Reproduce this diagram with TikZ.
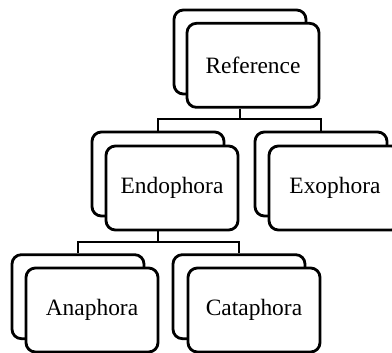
\documentclass[tikz,border=0pt]{standalone}
\usepackage{fontspec}
\setmainfont{Liberation Serif}
\begin{document}
\begin{tikzpicture}[every node/.style={font=\fontsize{20}{24}\selectfont},
  card/.style={draw,fill=white,line width=2.4pt,rounded corners=8pt,minimum width=3.96cm,minimum height=2.52cm},
  link/.style={line width=2.4pt}]
\useasboundingbox (0,0) rectangle (11.76,10.56);
\clip (0,0) rectangle (11.76,10.56);
% back cards
\node[card] (refback) at (7.20,9.00) {};
\node[card] (endoback) at (4.74,5.34) {};
\node[card] (exoback) at (9.63,5.34) {};
\node[card] (anaback) at (2.34,1.66) {};
\node[card] (cataback) at (7.17,1.66) {};
% front cards
\node[card] (ref) at (7.59,8.60) {Reference};
\node[card] (endo) at (5.16,4.92) {Endophora};
\node[card] (exo) at (10.05,4.92) {Exophora};
\node[card] (ana) at (2.76,1.26) {Anaphora};
\node[card] (cata) at (7.62,1.26) {Cataphora};
% connectors
\coordinate (bus1) at (0,6.99);
\coordinate (bus2) at (0,3.30);
\draw[link] (ref.south -| refback.center) -- (bus1 -| refback.center) -| (endoback.north);
\draw[link] (bus1 -| refback.center) -| (exoback.north);
\draw[link] (endo.south -| endoback.center) -- (bus2 -| endoback.center) -| (anaback.north);
\draw[link] (bus2 -| endoback.center) -| (cataback.north);
\end{tikzpicture}
\end{document}
